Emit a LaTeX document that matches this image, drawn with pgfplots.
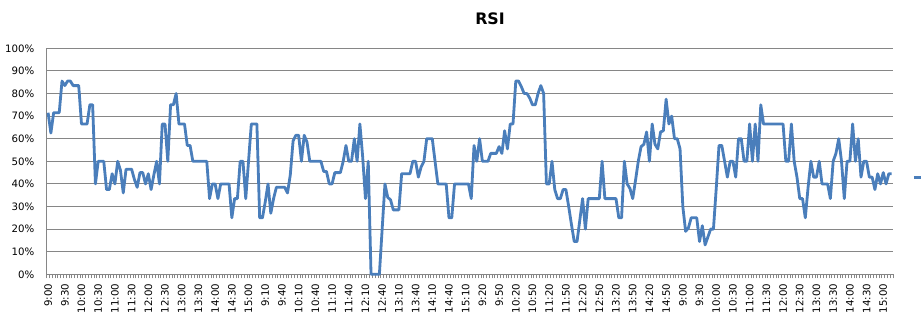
\documentclass[border=0pt]{standalone}
\usepackage{fontspec}
\setmainfont{DejaVu Sans}
\usepackage{pgfplots}
\usepackage{pgfplotstable}
\pgfplotsset{compat=1.18}
\definecolor{rsiblue}{HTML}{4A7EBB}
\definecolor{gridgray}{HTML}{868686}

\pgfplotstableread[row sep=\\]{
v\\
71.5\\62.5\\71.5\\71.5\\71.5\\85.5\\83.5\\85.5\\85.5\\83.5\\
83.5\\83.5\\66.5\\66.5\\66.5\\75\\75\\40\\50\\50\\
50\\37.5\\37.5\\44.5\\40\\50\\46\\36\\46.5\\46.5\\
46.5\\42\\38.5\\45\\45\\40\\44.5\\37.5\\44\\50\\
40\\66.5\\66.5\\50\\75\\75\\80\\66.5\\66.5\\66.5\\
57\\57\\50\\50\\50\\50\\50\\50\\33.5\\40\\
40\\33.5\\40\\40\\40\\40\\25\\33.5\\33.5\\50\\
50\\33.5\\50\\66.5\\66.5\\66.5\\25\\25\\32\\40\\
27\\33.5\\38.5\\38.5\\38.5\\38.5\\36\\44\\59\\61.5\\
61.5\\50\\61.5\\58.5\\50\\50\\50\\50\\50\\45.5\\
45.5\\40\\40\\45\\45\\45\\50\\57\\50\\50\\
60\\50\\66.5\\52\\33.5\\50\\0\\0\\0\\0\\
20\\40\\34\\33\\28.5\\28.5\\28.5\\44.5\\44.5\\44.5\\
44.5\\50\\50\\43\\47.5\\50\\60\\60\\60\\50\\
40\\40\\40\\40\\25\\25\\40\\40\\40\\40\\
40\\40\\33.5\\57\\50\\60\\50\\50\\50\\53.5\\
53.5\\53.5\\56.5\\53.5\\63.5\\55.5\\66.5\\66.5\\85.5\\85.5\\
83\\80\\80\\78\\75\\75\\80\\83.5\\80\\40\\
40\\50\\37.5\\33.5\\33.5\\37.5\\37.5\\30\\22\\14.5\\
14.5\\24\\33.5\\20\\33.5\\33.5\\33.5\\33.5\\33.5\\50\\
33.5\\33.5\\33.5\\33.5\\33.5\\25\\25\\50\\40\\38\\
33.5\\41.5\\50\\56.5\\57.5\\63\\50\\66.5\\57.5\\55.5\\
63\\63.5\\77.5\\66.5\\70\\60\\60\\55.5\\30\\19\\
20.5\\25\\25\\25\\14.5\\21.5\\13\\16.5\\20\\20\\
38\\57\\57\\50\\43\\50\\50\\43\\60\\60\\
50\\50\\66.5\\50\\66.5\\50\\75\\66.5\\66.5\\66.5\\
66.5\\66.5\\66.5\\66.5\\66.5\\50\\50\\66.5\\50\\43\\
33.5\\33.5\\25\\38.5\\50\\43\\43\\50\\40\\40\\
40\\33.5\\50\\53.5\\60\\50\\33.5\\50\\50\\66.5\\
50\\60\\43\\50\\50\\43\\43\\37.5\\44.5\\40\\
45\\40\\44.5\\44.5\\
}\rsidata

\begin{document}
\begin{tikzpicture}
\begin{axis}[
  at={(0.934cm,0.914cm)}, anchor=south west,
  scale only axis, width=16.926cm, height=4.52cm,
  xmin=-0.5, xmax=303.5, ymin=0, ymax=100,
  clip=false,
  axis lines*=left,
  axis line style={gridgray, line width=0.6pt},
  ymajorgrids, grid style={gridgray, line width=0.6pt},
  ytick={0,10,...,100},
  yticklabels={0\%,10\%,20\%,30\%,40\%,50\%,60\%,70\%,80\%,90\%,100\%},
  xtick={0,6,...,300},
  xticklabels={9:00,9:30,10:00,10:30,11:00,11:30,12:00,12:30,13:00,13:30,14:00,14:30,15:00,
    9:10,9:40,10:10,10:40,11:10,11:40,12:10,12:40,13:10,13:40,14:10,14:40,15:10,
    9:20,9:50,10:20,10:50,11:20,11:50,12:20,12:50,13:20,13:50,14:20,14:50,
    9:00,9:30,10:00,10:30,11:00,11:30,12:00,12:30,13:00,13:30,14:00,14:30,15:00},
  minor xtick={-0.5,0.5,...,303.5},
  major tick length=0pt,
  minor tick length=0.08cm,
  tick align=outside,
  minor tick style={gridgray, line width=0.5pt},
  /pgf/number format/assume math mode=true,
  tick label style={font=\fontsize{5.8}{7}\selectfont, black},
  xticklabel style={yshift=-0.18cm, rotate=90, anchor=east, inner sep=0pt},
  yticklabel style={xshift=-0.24cm, anchor=east, inner sep=0pt},
  legend style={draw=none, fill=none, at={(1,0.43)}, anchor=west, xshift=0.38cm,
    inner sep=0pt, nodes={inner sep=0pt}},
  legend image code/.code={\draw[#1] (0cm,0cm) -- (0.35cm,0cm);},
]
\addplot[rsiblue, line width=1.6pt, line join=round, mark=none]
  table[x expr=\coordindex, y=v] {\rsidata};
\addlegendentry{\mbox{}}
\end{axis}
\node[font=\bfseries\fontsize{9}{11}\selectfont] at (9.8cm,6.02cm) {RSI};
\pgfresetboundingbox
\useasboundingbox (0,0) rectangle (18.42cm,6.4cm);
\end{tikzpicture}
\end{document}
